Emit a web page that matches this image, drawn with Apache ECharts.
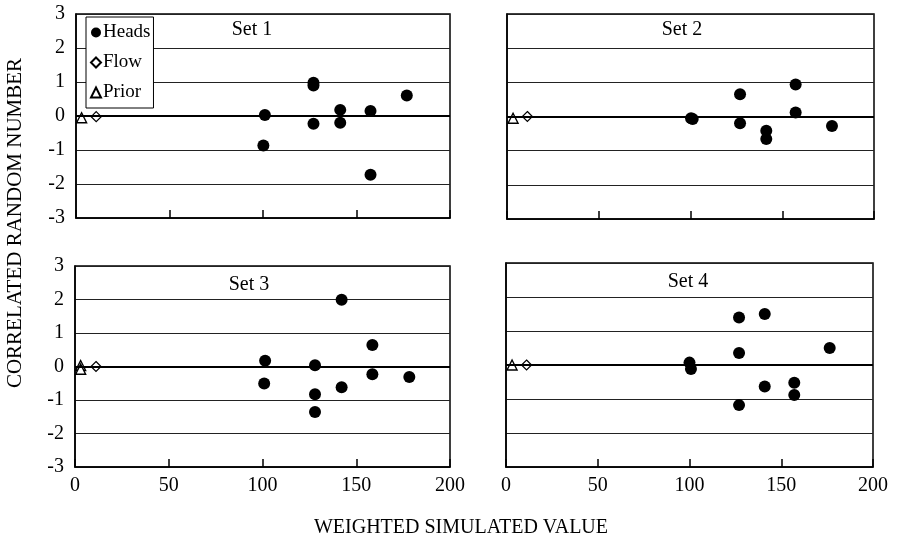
<!DOCTYPE html>
<html>
<head>
<meta charset="utf-8">
<script src="https://cdn.jsdelivr.net/npm/echarts@6/dist/echarts.min.js"></script>
<style>
  html, body { margin: 0; padding: 0; background: #fff; }
  #chart { width: 901px; height: 542px; }
</style>
</head>
<body>
<div id="chart"></div>
<script>
// values: [weighted simulated value, correlated random number]
var set1Heads = [[100.2, -0.87], [101, 0.03], [127, 0.98], [127, 0.9], [127, -0.23], [141.3, 0.18], [141.3, -0.2], [157.5, 0.15], [157.5, -1.73], [176.9, 0.6]];
var set2Heads = [[100.3, -0.05], [101.2, -0.07], [127, 0.65], [127, -0.2], [141.3, -0.42], [141.3, -0.66], [157.3, 0.94], [157.3, 0.12], [177.1, -0.28]];
var set3Heads = [[101.4, 0.17], [100.9, -0.51], [128, 0.04], [128, -0.83], [128, -1.36], [142.2, 1.99], [142.2, -0.62], [158.6, 0.64], [158.6, -0.23], [178.3, -0.31]];
var set4Heads = [[100, 0.07], [100.8, -0.12], [127, 1.4], [127, 0.35], [127, -1.18], [141, 1.5], [141, -0.63], [157.1, -0.52], [157.1, -0.88], [176.4, 0.5]];

var set1Flow = [[10.8, -0.02]];
var set2Flow = [[11.1, 0]];
var set3Flow = [[11.2, 0]];
var set4Flow = [[11.2, 0]];

var set1Prior = [[3, -0.05]];
var set2Prior = [[3.3, -0.05]];
var set3Prior = [[3, 0.03], [3, -0.08]];
var set4Prior = [[3.3, 0]];

var setNames = ['Set 1', 'Set 2', 'Set 3', 'Set 4'];
var xTicks = [0, 50, 100, 150, 200];
var yTicks = [-3, -2, -1, 0, 1, 2, 3];

var headsData = [set1Heads, set2Heads, set3Heads, set4Heads];
var flowData = [set1Flow, set2Flow, set3Flow, set4Flow];
var priorData = [set1Prior, set2Prior, set3Prior, set4Prior];

var font = '"Liberation Serif", "Times New Roman", serif';

var grids = [
  { left: 76, top: 14, width: 374, height: 204 },
  { left: 507, top: 14, width: 367, height: 205 },
  { left: 75, top: 266, width: 375, height: 201 },
  { left: 506, top: 263, width: 367, height: 204 }
];

var xAxes = [], yAxes = [], series = [], titles = [];
var titlePos = [[247, 15], [677, 15], [244, 270], [683, 267]];

grids.forEach(function (g, i) {
  g.show = true;
  g.borderColor = '#000';
  g.borderWidth = 1.5;
  g.containLabel = false;

  xAxes.push({
    gridIndex: i,
    type: 'value',
    min: xTicks[0],
    max: xTicks[xTicks.length - 1],
    interval: 50,
    axisLine: { show: true, onZero: false, lineStyle: { color: '#000', width: 1.5 } },
    axisTick: { show: true, inside: true, length: 8, lineStyle: { color: '#000', width: 1.5 } },
    axisLabel: { show: i >= 2, color: '#000', fontFamily: font, fontSize: 20, margin: 9 },
    splitLine: { show: false }
  });

  yAxes.push({
    gridIndex: i,
    type: 'value',
    min: yTicks[0],
    max: yTicks[yTicks.length - 1],
    interval: 1,
    axisLine: { show: true, lineStyle: { color: '#000', width: 1.5 } },
    axisTick: { show: false },
    axisLabel: { show: i % 2 === 0, color: '#000', fontFamily: font, fontSize: 20, margin: 11 },
    splitLine: { show: true, lineStyle: { color: '#222', width: 1 } }
  });

  series.push({
    name: 'Heads',
    type: 'scatter',
    xAxisIndex: i,
    yAxisIndex: i,
    symbol: 'circle',
    symbolSize: 12,
    itemStyle: { color: '#000', opacity: 1 },
    data: headsData[i],
    z: 5,
    markLine: {
      silent: true,
      symbol: 'none',
      label: { show: false },
      lineStyle: { color: '#000', width: 2, type: 'solid' },
      data: [{ yAxis: 0 }]
    }
  });
  series.push({
    name: 'Flow',
    type: 'scatter',
    xAxisIndex: i,
    yAxisIndex: i,
    symbol: 'diamond',
    symbolSize: 10,
    itemStyle: { color: '#fff', borderColor: '#000', borderWidth: 1.2, opacity: 1 },
    data: flowData[i],
    z: 4
  });
  series.push({
    name: 'Prior',
    type: 'scatter',
    xAxisIndex: i,
    yAxisIndex: i,
    symbol: 'triangle',
    symbolSize: 10,
    itemStyle: { color: '#fff', borderColor: '#000', borderWidth: 1.4, opacity: 1 },
    data: priorData[i],
    z: 4
  });

  titles.push({
    text: setNames[i],
    left: titlePos[i][0],
    top: titlePos[i][1],
    textAlign: 'center',
    textStyle: { fontFamily: font, fontSize: 20, fontWeight: 'normal', color: '#000' }
  });
});

var chart = echarts.init(document.getElementById('chart'), null, { renderer: 'canvas' });
chart.setOption({
  animation: false,
  backgroundColor: '#fff',
  title: titles,
  legend: {
    orient: 'vertical',
    left: 86,
    top: 17,
    padding: [6, 3, 6, 4],
    itemGap: 11,
    itemWidth: 10,
    itemHeight: 10,
    backgroundColor: '#fff',
    borderColor: '#000',
    borderWidth: 1,
    textStyle: { fontFamily: font, fontSize: 19, color: '#000', padding: [0, 0, 0, -3] },
    data: ['Heads', 'Flow', 'Prior']
  },
  grid: grids,
  xAxis: xAxes,
  yAxis: yAxes,
  series: series,
  graphic: [
    {
      type: 'text',
      x: 15,
      y: 223,
      rotation: Math.PI / 2,
      style: {
        text: 'CORRELATED RANDOM NUMBER',
        fontFamily: font,
        fontSize: 21,
        fill: '#000',
        textAlign: 'center',
        textVerticalAlign: 'middle'
      }
    },
    {
      type: 'text',
      x: 461,
      y: 528,
      style: {
        text: 'WEIGHTED SIMULATED VALUE',
        fontFamily: font,
        fontSize: 20,
        fill: '#000',
        textAlign: 'center',
        textVerticalAlign: 'middle'
      }
    }
  ]
});
</script>
</body>
</html>
